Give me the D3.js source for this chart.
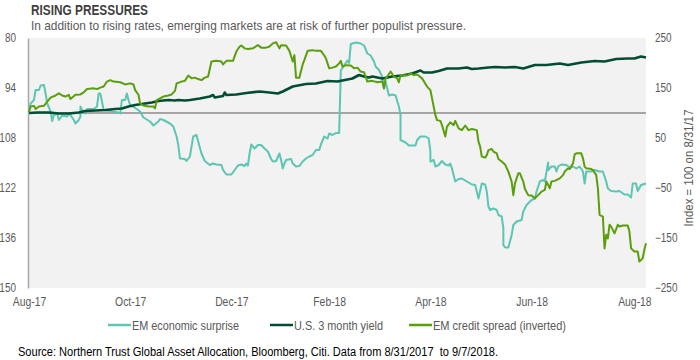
<!DOCTYPE html>
<html><head><meta charset="utf-8">
<script src="https://cdn.jsdelivr.net/npm/d3@7/dist/d3.min.js"></script>
<style>
html,body{margin:0;padding:0;background:#fff;}
svg text{font-family:"Liberation Sans",Arial,sans-serif;}
</style></head>
<body>
<svg id="chart" width="700" height="360"></svg>
<script>
// ---------- data (day offset from 8/31/2017, value) ----------
const startDate = "2017-08-31";
const endDate = "2018-09-07";
const xTickDates = ["2017-08-31","2017-10-31","2017-12-31","2018-02-28","2018-04-30","2018-06-30","2018-08-31"];
const xTickLabels = ["Aug-17","Oct-17","Dec-17","Feb-18","Apr-18","Jun-18","Aug-18"];
const leftTicks = [80,94,108,122,136,150];
const rightTicks = [250,150,50,-50,-150,-250];
const seriesNames = ["EM economic surprise","U.S. 3 month yield","EM credit spread (inverted)"];

// EM economic surprise (right axis, index)
const emSurprise = [[0,106],[1,119],[3,126],[4,146],[6,146],[7,155],[9,156],[10,139],[11,119],[13,103],[14,84],[15,96],[17,99],[18,86],[20,95],[23,93],[24,99],[25,96],[27,86],[28,79],[30,86],[31,93],[31,113],[32,106],[34,99],[35,108],[39,108],[41,113],[42,139],[43,139],[44,123],[45,106],[50,103],[54,101],[55,99],[56,126],[58,126],[59,139],[60,126],[61,116],[65,108],[67,103],[69,91],[73,83],[75,75],[78,83],[79,88],[81,86],[85,79],[87,73],[88,63],[89,53],[90,36],[91,9],[94,8],[95,4],[97,13],[99,53],[101,56],[102,43],[104,19],[106,4],[109,-4],[111,-1],[113,-3],[116,-4],[117,-14],[119,-23],[122,-23],[124,-14],[126,-5],[128,-3],[130,-6],[131,-1],[132,-5],[133,19],[134,37],[136,29],[138,36],[140,36],[142,29],[144,23],[146,8],[147,3],[149,4],[151,19],[152,6],[153,-11],[154,-1],[155,6],[158,8],[159,-1],[161,-7],[163,-6],[165,3],[167,9],[169,13],[171,16],[173,26],[175,26],[176,37],[178,53],[180,49],[181,59],[183,56],[185,60],[187,60],[188,185],[190,195],[192,205],[193,200],[194,238],[197,241],[200,239],[202,235],[204,219],[206,215],[208,203],[209,193],[211,186],[212,179],[213,173],[214,149],[215,163],[216,149],[217,135],[219,137],[221,135],[223,113],[224,96],[224,46],[227,41],[229,35],[233,35],[234,46],[236,53],[239,53],[241,49],[242,23],[242,3],[244,6],[245,-7],[247,-4],[249,4],[251,-3],[253,-5],[254,-1],[255,-11],[257,-37],[259,-32],[261,-31],[264,-37],[267,-43],[269,-44],[271,-71],[273,-41],[275,-43],[276,-57],[277,-87],[278,-94],[280,-91],[282,-94],[283,-104],[285,-107],[286,-131],[286,-164],[287,-169],[289,-169],[291,-144],[292,-124],[294,-117],[297,-114],[298,-97],[300,-84],[303,-74],[305,-71],[306,-57],[308,-37],[310,-34],[311,-37],[313,1],[313,-14],[315,-7],[317,-7],[318,-17],[319,-7],[321,-3],[324,-4],[326,-9],[328,-7],[330,-11],[332,-7],[334,-17],[335,-41],[336,-17],[339,-17],[341,-14],[344,-17],[346,-17],[348,-37],[349,-51],[351,-56],[354,-57],[356,-56],[359,-63],[361,-63],[363,-69],[364,-41],[366,-41],[367,-56],[369,-44],[372,-41]];

// U.S. 3 month yield (right axis, index)
const us3mYield = [[0,100],[5,101],[12,101],[18,99],[24,99],[30,101],[34,104],[40,105],[46,106],[52,108],[56,109],[60,113],[64,116],[68,118],[74,121],[78,124],[84,126],[88,125],[90,126],[94,125],[97,126],[103,129],[109,133],[111,136],[112,131],[117,134],[118,141],[119,136],[125,137],[131,140],[139,143],[145,141],[150,139],[153,143],[159,153],[167,158],[173,159],[180,164],[186,163],[189,165],[195,169],[199,176],[202,173],[205,171],[207,173],[213,169],[219,173],[225,175],[231,179],[236,185],[238,181],[243,181],[247,184],[252,189],[259,189],[264,191],[267,188],[271,189],[277,191],[281,192],[287,191],[293,192],[298,189],[305,196],[312,196],[320,199],[325,196],[333,201],[341,204],[347,203],[354,208],[361,209],[365,209],[369,213],[372,211]];

// EM credit spread (inverted, left axis)
const emSpread = [[0,100.8],[1,99.2],[3,99],[4,99.9],[6,99.2],[9,99],[11,97.8],[13,96.7],[16,96.1],[18,95.5],[20,96.1],[22,96.4],[24,95.9],[25,97.1],[28,95.9],[31,95.8],[33,95.2],[35,94.3],[39,94.1],[41,94.3],[43,93.9],[45,93.6],[47,92.2],[49,91.8],[51,92.2],[55,92.4],[58,93],[61,92.7],[63,93],[64,94.6],[66,95.9],[67,98.3],[69,98.9],[72,99.2],[75,99.2],[76,99.7],[77,97.4],[79,96.9],[81,96.4],[84,96.1],[86,95.8],[88,94.8],[89,92.7],[92,92.2],[94,92],[96,90.5],[98,91.3],[100,91.1],[102,91.5],[104,91.8],[106,91.1],[108,90.8],[110,86.6],[113,86.4],[116,86.6],[117,87.4],[119,86.4],[123,86.4],[125,83.8],[127,82.4],[128,82.1],[130,82.9],[132,83.1],[135,82.9],[138,82],[140,82.7],[143,82.7],[145,82.4],[147,81.5],[149,81.2],[151,82.9],[152,82],[155,82.1],[157,83.6],[159,86.6],[160,84.8],[161,91.1],[163,91.1],[165,87.4],[166,86.2],[168,83.6],[171,83.4],[173,83.6],[176,83.6],[178,84.9],[179,85.7],[181,88.5],[183,88.3],[185,88],[187,87.1],[188,86.4],[189,88],[191,87.6],[194,87.7],[196,88.5],[198,88.3],[200,89.4],[202,89.6],[204,92.2],[207,92],[210,92.4],[213,92.2],[214,94.1],[215,91.3],[216,90.8],[218,89.4],[220,90.8],[222,91.3],[223,92.4],[224,90.4],[226,90.4],[228,90.5],[230,89.9],[232,90.4],[234,90.2],[237,91.3],[240,93.6],[242,94.6],[243,96.9],[245,101.6],[246,103],[248,103.2],[249,104.4],[251,107.6],[252,104.8],[254,103.6],[256,104.4],[257,103.2],[259,105.3],[261,105.8],[263,104.5],[265,105.8],[267,105.5],[270,105.8],[271,109],[272,110.4],[273,113.2],[275,113.5],[276,112.8],[277,111.4],[279,111.1],[280,111.8],[282,112.3],[283,113.9],[285,114.6],[287,115.4],[289,117.4],[291,120.2],[292,124],[293,120.7],[295,117.9],[296,117.9],[298,120.2],[299,122.3],[301,124],[303,124.1],[305,124.9],[307,124],[309,123],[311,122.5],[312,120.2],[314,122.1],[315,120.2],[317,120],[320,119.3],[322,118.4],[323,117.4],[325,116.5],[326,116.7],[328,115.1],[329,112.6],[330,112.3],[333,112.3],[334,113.7],[335,116],[336,116.5],[339,116.7],[340,117],[342,118.4],[343,122.1],[344,129.5],[346,130],[347,138.9],[348,135.1],[349,136.1],[350,132.3],[351,132.8],[353,134.7],[355,132.3],[356,132.8],[358,132.5],[361,132.5],[362,134.2],[363,138.9],[365,139.8],[367,139.8],[368,142.6],[370,141.7],[371,139.3],[372,137.5]];

const baselineIndex = 100;

// ---------- drawing ----------
const colors = ["#5cc6b3","#004d33","#5a9e0c"];
const widths = [2, 2.6, 2];
const svg = d3.select("#chart");
const plot = {left:29, right:646, top:38, bottom:288};
const parse = d3.timeParse("%Y-%m-%d");
const t0 = parse(startDate);

// squeeze text horizontally (the original uses a narrow typeface)
function condense(sel, factor, target){
  sel.each(function(){
    const w = this.getComputedTextLength();
    const len = target || w*factor;
    d3.select(this).attr("textLength", len).attr("lengthAdjust","spacingAndGlyphs");
  });
}

const x = d3.scaleTime().domain([t0, parse(endDate)]).range([plot.left, plot.right]);
const yR = d3.scaleLinear().domain([-250,250]).range([plot.bottom, plot.top]);
const yL = d3.scaleLinear().domain([80,150]).range([plot.top, plot.bottom]);

svg.append("rect").attr("x",plot.left).attr("y",plot.top)
  .attr("width",plot.right-plot.left).attr("height",plot.bottom-plot.top).attr("fill","#f2f2f2");

// titles
svg.append("text").attr("x",31).attr("y",14.5).attr("font-size",14.5).attr("font-weight","bold")
  .attr("fill","#3f3f3f").text("RISING PRESSURES").call(condense, 0.82, 117);
svg.append("text").attr("x",31).attr("y",29.5).attr("font-size",12.8).attr("fill","#595959")
  .text("In addition to rising rates, emerging markets are at risk of further populist pressure.")
  .call(condense, 0.82, 435);

// left axis
const gL = svg.append("g").attr("transform",`translate(${plot.left-1},0)`)
  .call(d3.axisLeft(yL).tickValues(leftTicks).tickSize(0).tickPadding(12));
gL.select(".domain").attr("stroke","#a6a6a6").attr("stroke-width",1.5);
gL.selectAll("text").attr("font-size",12).attr("fill","#595959")
  .attr("font-family",'"Liberation Sans",Arial,sans-serif').call(condense, 0.83);

// right axis
const gR = svg.append("g").attr("transform",`translate(${plot.right},0)`)
  .call(d3.axisRight(yR).tickValues(rightTicks).tickSize(0).tickPadding(9));
gR.select(".domain").remove();
gR.selectAll("text").attr("font-size",12).attr("fill","#595959")
  .attr("font-family",'"Liberation Sans",Arial,sans-serif').call(condense, 0.83);

// x axis
const gX = svg.append("g").attr("transform",`translate(0,${plot.bottom})`)
  .call(d3.axisBottom(x).tickValues(xTickDates.map(parse)).tickSize(0).tickPadding(9)
    .tickFormat((d,i)=>xTickLabels[i]));
gX.select(".domain").remove();
gX.selectAll("text").attr("font-size",12.5).attr("fill","#595959")
  .attr("font-family",'"Liberation Sans",Arial,sans-serif').call(condense, 0.83);

// right axis title
svg.append("text").attr("transform","translate(693,168) rotate(-90)")
  .attr("text-anchor","middle").attr("font-size",12.8).attr("fill","#595959")
  .text("Index = 100 on 8/31/17").call(condense, 0.82, 117);

// baseline at index 100
svg.append("line").attr("x1",plot.left).attr("x2",plot.right)
  .attr("y1",yR(baselineIndex)).attr("y2",yR(baselineIndex))
  .attr("stroke","#595959").attr("stroke-width",1);

const toDate = d => d3.timeDay.offset(t0, d[0]);
const lineR = d3.line().x(d=>x(toDate(d))).y(d=>yR(d[1]));
const lineL = d3.line().x(d=>x(toDate(d))).y(d=>yL(d[1]));

svg.append("path").datum(emSurprise).attr("d",lineR).attr("fill","none")
  .attr("stroke",colors[0]).attr("stroke-width",widths[0]).attr("stroke-linejoin","round");
svg.append("path").datum(us3mYield).attr("d",lineR).attr("fill","none")
  .attr("stroke",colors[1]).attr("stroke-width",widths[1]).attr("stroke-linejoin","round");
svg.append("path").datum(emSpread).attr("d",lineL).attr("fill","none")
  .attr("stroke",colors[2]).attr("stroke-width",widths[2]).attr("stroke-linejoin","round");

// legend
const legendX = [108, 270, 409];
const legendW = [107, 89, 133];
const lg = svg.append("g");
seriesNames.forEach((n,i)=>{
  lg.append("line").attr("x1",legendX[i]).attr("x2",legendX[i]+23).attr("y1",325).attr("y2",325)
    .attr("stroke",colors[i]).attr("stroke-width",2.5);
  lg.append("text").attr("x",legendX[i]+24).attr("y",329.5).attr("font-size",12.8).attr("fill","#595959")
    .text(n).call(condense, 0.82, legendW[i]);
});

// source
svg.append("text").attr("x",18).attr("y",356).attr("font-size",12.5).attr("fill","#000")
  .attr("xml:space","preserve").style("white-space","pre")
  .text("Source: Northern Trust Global Asset Allocation, Bloomberg, Citi. Data from 8/31/2017  to 9/7/2018.")
  .call(condense, 0.85, 480);
</script>
</body></html>
